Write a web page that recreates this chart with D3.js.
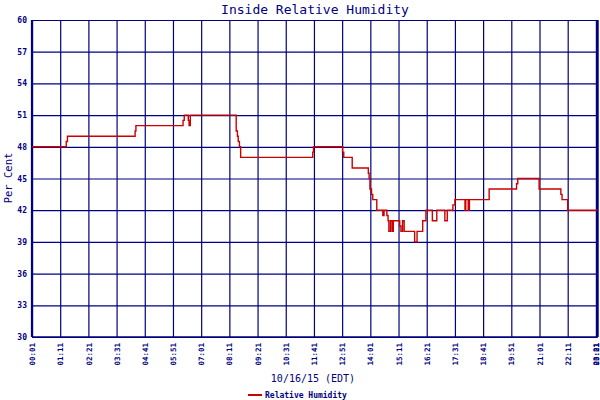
<!DOCTYPE html>
<html>
<head>
<meta charset="utf-8">
<script src="https://cdn.jsdelivr.net/npm/d3@7"></script>
<style>
  html, body { margin: 0; padding: 0; background: #ffffff; }
  svg { display: block; }
</style>
</head>
<body>
<svg id="chart" width="600" height="400"></svg>
<script>
// ---- data (minutes after 00:01, relative humidity %) ----
const minutes = [0, 85, 88, 256, 258, 375, 378, 388, 390, 393,
  507, 510, 512, 515, 518, 697, 699, 771, 774, 795,
  835, 837, 839, 843, 846, 856, 871, 874, 881, 884,
  886, 890, 894, 897, 913, 916, 920, 924, 950, 956,
  970, 978, 994, 1005, 1025, 1031, 1045, 1050, 1075, 1077,
  1083, 1086, 1135, 1203, 1206, 1259, 1313, 1316, 1330, 1404];
const humidity = [48, 48.5, 49, 49.5, 50, 50.5, 51, 50.5, 50, 51,
  49.5, 49, 48.5, 48, 47, 47.5, 48, 47.5, 47, 46,
  45.5, 45, 44, 43.5, 43, 42, 41.5, 42, 41.5, 41,
  40, 41, 40, 41, 40.5, 40, 41, 40, 39, 40,
  41, 42, 41, 42, 41, 42, 42.5, 43, 42, 43,
  42, 43, 44, 44.5, 45, 44, 43.5, 43, 42, 42];

const xTickMinutes = [0, 70, 140, 210, 280, 350, 420, 490, 560, 630, 700,
  770, 840, 910, 980, 1050, 1120, 1190, 1260, 1330, 1400, 1404];
const xTickLabels = ["00:01", "01:11", "02:21", "03:31", "04:41", "05:51", "07:01",
  "08:11", "09:21", "10:31", "11:41", "12:51", "14:01", "15:11", "16:21",
  "17:31", "18:41", "19:51", "21:01", "22:11", "23:21", "00:01"];
const yTicks = [30, 33, 36, 39, 42, 45, 48, 51, 54, 57, 60];

const titleText = "Inside Relative Humidity";
const yLabel = "Per Cent";
const xLabel = "10/16/15 (EDT)";
const seriesName = "Relative Humidity";

(function draw() {
  const navy = "#000080";
  const red = "#cc0000";
  const mono = "'DejaVu Sans Mono', 'Liberation Mono', monospace";
  const pL = 32, pR = 597.5, pT = 20, pB = 337;

  const svg = d3.select("#chart");

  const x = d3.scaleLinear().domain([0, 1404]).range([pL, pR]);
  const y = d3.scaleLinear().domain([30, 60]).range([pB, pT]);

  svg.append("text")
    .attr("x", 315).attr("y", 14)
    .attr("text-anchor", "middle")
    .attr("font-family", mono).attr("font-size", 13)
    .attr("fill", navy)
    .text(titleText);

  const yAxis = svg.append("g")
    .attr("transform", `translate(${pL},0)`)
    .call(d3.axisLeft(y).tickValues(yTicks).tickSize(-(pR - pL)).tickPadding(5).tickFormat(d3.format("d")));
  yAxis.select(".domain").remove();
  yAxis.selectAll(".tick line").attr("stroke", navy).attr("stroke-width", 1.2);
  yAxis.selectAll(".tick text")
    .attr("font-family", mono).attr("font-size", 8).attr("font-weight", "bold")
    .attr("fill", navy);

  const xAxis = svg.append("g")
    .attr("transform", `translate(0,${pB})`)
    .call(d3.axisBottom(x).tickValues(xTickMinutes).tickSize(-(pB - pT))
      .tickFormat((d, i) => xTickLabels[i]));
  xAxis.select(".domain").remove();
  xAxis.selectAll(".tick line").attr("stroke", navy).attr("stroke-width", 1.2);
  const n = xTickMinutes.length;
  xAxis.selectAll(".tick text")
    .attr("font-family", mono).attr("font-size", 7.5).attr("font-weight", "bold")
    .attr("fill", navy)
    .attr("transform", "rotate(-90)")
    .attr("text-anchor", "end")
    .attr("x", -6)
    .attr("y", (d, i) => (i === n - 1 ? -2 : 0))
    .attr("dy", "0.35em");

  svg.append("line").attr("x1", pL).attr("x2", pL).attr("y1", pT).attr("y2", pB)
    .attr("stroke", navy).attr("stroke-width", 2.2);
  svg.append("line").attr("x1", pL).attr("x2", pR).attr("y1", pB).attr("y2", pB)
    .attr("stroke", navy).attr("stroke-width", 1.6);
  svg.append("line").attr("x1", pR).attr("x2", pR).attr("y1", pT).attr("y2", pB)
    .attr("stroke", navy).attr("stroke-width", 1.6);

  const pts = minutes.map((m, i) => [m, humidity[i]]);
  svg.append("path")
    .datum(pts)
    .attr("fill", "none")
    .attr("stroke", red)
    .attr("stroke-width", 1.4)
    .attr("d", d3.line().x(d => x(d[0])).y(d => y(d[1])).curve(d3.curveStepAfter));

  svg.append("text")
    .attr("transform", "translate(12,178) rotate(-90)")
    .attr("text-anchor", "middle")
    .attr("font-family", mono).attr("font-size", 10.5)
    .attr("fill", navy)
    .text(yLabel);

  svg.append("text")
    .attr("x", 313).attr("y", 382)
    .attr("text-anchor", "middle")
    .attr("font-family", mono).attr("font-size", 10)
    .attr("fill", navy)
    .text(xLabel);

  svg.append("line")
    .attr("x1", 248).attr("x2", 262).attr("y1", 395).attr("y2", 395)
    .attr("stroke", red).attr("stroke-width", 2);
  svg.append("text")
    .attr("x", 265).attr("y", 398)
    .attr("font-family", mono).attr("font-size", 8).attr("font-weight", "bold")
    .attr("fill", navy)
    .text(seriesName);
})();
</script>
</body>
</html>
